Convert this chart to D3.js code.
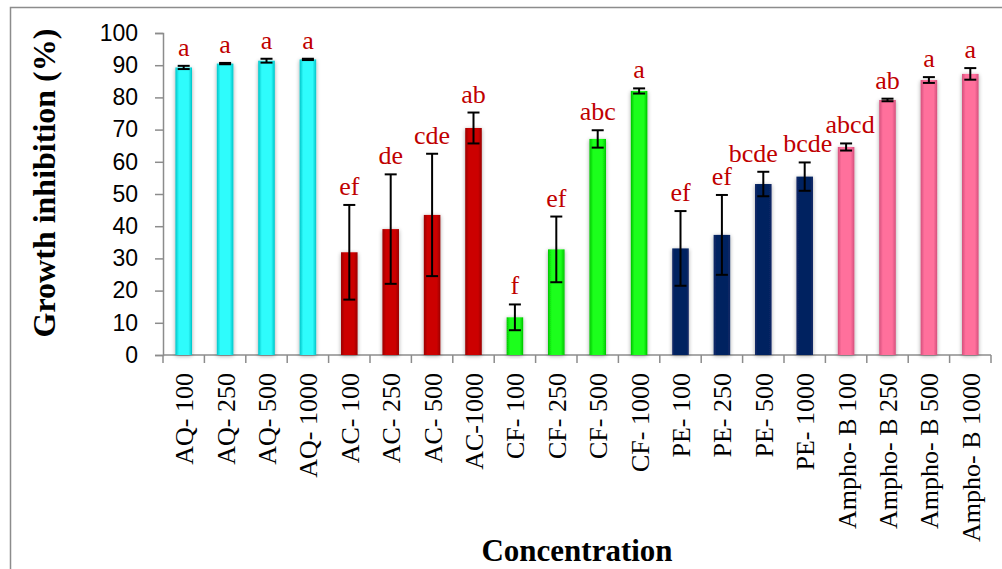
<!DOCTYPE html>
<html>
<head>
<meta charset="utf-8">
<script src="https://cdn.jsdelivr.net/npm/d3@7"></script>
<style>
  html, body { margin: 0; padding: 0; background: #fff; }
  svg { display: block; }
</style>
</head>
<body>
<svg id="chart" width="1002" height="569"></svg>
<script>
// Extract / treatment concentrations along the x axis
const categories = [
  "AQ- 100", "AQ- 250", "AQ- 500", "AQ- 1000",
  "AC- 100", "AC- 250", "AC- 500", "AC-1000",
  "CF- 100", "CF- 250", "CF- 500", "CF- 1000",
  "PE- 100", "PE- 250", "PE- 500", "PE- 1000",
  "Ampho- B 100", "Ampho- B 250", "Ampho- B 500", "Ampho- B 1000"
];
// Group each bar belongs to (sets the bar colour)
const groups = [
  "AQ", "AQ", "AQ", "AQ",
  "AC", "AC", "AC", "AC",
  "CF", "CF", "CF", "CF",
  "PE", "PE", "PE", "PE",
  "AMB", "AMB", "AMB", "AMB"
];
// Mean growth inhibition (%)
const inhibition = [
  89.3, 90.5, 91.4, 91.8,
  31.9, 39.1, 43.5, 70.5,
  11.7, 32.8, 67.1, 82.0,
  33.1, 37.3, 53.1, 55.4,
  64.6, 79.2, 85.4, 87.3
];
// Standard deviation shown as error bars
const errors = [
  0.5, 0.2, 0.6, 0.2,
  14.7, 17.0, 19.0, 4.8,
  4.0, 10.2, 2.7, 0.8,
  11.6, 12.4, 3.8, 4.4,
  1.1, 0.4, 0.9, 1.8
];
// Significance letters (groups sharing a letter do not differ)
const letters = [
  "a", "a", "a", "a",
  "ef", "de", "cde", "ab",
  "f", "ef", "abc", "a",
  "ef", "ef", "bcde", "bcde",
  "abcd", "ab", "a", "a"
];
const yTicks = [0, 10, 20, 30, 40, 50, 60, 70, 80, 90, 100];

const groupColors = {
  AQ:  { mid: "#2ffcfc", edge: "#00c4c8" },
  AC:  { mid: "#cc0000", edge: "#9a0000" },
  CF:  { mid: "#1aff1a", edge: "#00c400" },
  PE:  { mid: "#002060", edge: "#0f2a66" },
  AMB: { mid: "#ff6f9c", edge: "#d4507c" }
};

// Sideways nudges so neighbouring letter labels don't collide
const letterNudge = { "PE- 500": -10, "PE- 1000": 3, "Ampho- B 100": 4 };

const svg = d3.select("#chart");
const defs = svg.append("defs");

// Soft shadow around each bar
const shadow = defs.append("filter").attr("id", "barShadow")
  .attr("x", "-60%").attr("y", "-10%").attr("width", "220%").attr("height", "120%");
shadow.append("feGaussianBlur").attr("in", "SourceAlpha").attr("stdDeviation", 2.2).attr("result", "b");
shadow.append("feOffset").attr("in", "b").attr("dx", 0).attr("dy", 1).attr("result", "o");
shadow.append("feComponentTransfer").attr("in", "o").attr("result", "s")
  .append("feFuncA").attr("type", "linear").attr("slope", 0.35);
const merge = shadow.append("feMerge");
merge.append("feMergeNode").attr("in", "s");
merge.append("feMergeNode").attr("in", "SourceGraphic");

// Horizontal gradient: darker edges, bright centre
Object.entries(groupColors).forEach(([k, c]) => {
  const g = defs.append("linearGradient").attr("id", "grad-" + k)
    .attr("x1", "0%").attr("x2", "100%").attr("y1", "0%").attr("y2", "0%");
  g.append("stop").attr("offset", "0%").attr("stop-color", c.edge);
  g.append("stop").attr("offset", "22%").attr("stop-color", c.mid);
  g.append("stop").attr("offset", "78%").attr("stop-color", c.mid);
  g.append("stop").attr("offset", "100%").attr("stop-color", c.edge);
});

// Outer chart frame
svg.append("rect")
  .attr("x", 10.5).attr("y", 7.5).attr("width", 1010).attr("height", 620)
  .attr("fill", "none").attr("stroke", "#8c8c8c").attr("stroke-width", 1.5);

const plot = { left: 163, right: 991, top: 33, bottom: 355 };

const x = d3.scaleBand()
  .domain(categories)
  .range([plot.left, plot.right])
  .paddingInner(0.6)
  .paddingOuter(0.3);

const y = d3.scaleLinear().domain([0, 100]).range([plot.bottom, plot.top]);

const axisColor = "#8c8c8c";

// Y axis
const yAxis = svg.append("g")
  .attr("transform", `translate(${plot.left},0)`)
  .call(d3.axisLeft(y).tickValues(yTicks).tickSize(8).tickPadding(6).tickFormat(d3.format("d")));
yAxis.select(".domain").attr("stroke", axisColor).attr("stroke-width", 1.5);
yAxis.selectAll(".tick line").attr("stroke", axisColor).attr("stroke-width", 1.5);
yAxis.selectAll(".tick text")
  .attr("font-family", "'Liberation Sans', Arial, sans-serif")
  .attr("font-size", 23).attr("fill", "#000").attr("x", -25);

// X axis line and category boundary ticks
svg.append("line")
  .attr("x1", plot.left).attr("x2", plot.right)
  .attr("y1", plot.bottom).attr("y2", plot.bottom)
  .attr("stroke", axisColor).attr("stroke-width", 1.5);
const boundaries = categories.map((c, i) => plot.left + i * x.step());
boundaries.push(plot.right);
svg.append("g").selectAll("line").data(boundaries).join("line")
  .attr("x1", d => d).attr("x2", d => d)
  .attr("y1", plot.bottom).attr("y2", plot.bottom + 8)
  .attr("stroke", axisColor).attr("stroke-width", 1.5);

// X tick labels, rotated
svg.append("g").selectAll("text").data(categories).join("text")
  .attr("transform", d => `translate(${x(d) + x.bandwidth() / 2 + 1},${plot.bottom + 18}) rotate(-90)`)
  .attr("text-anchor", "end")
  .attr("dominant-baseline", "central")
  .attr("font-family", "'Liberation Serif', 'Times New Roman', serif")
  .attr("font-size", 26)
  .attr("fill", "#000")
  .text(d => d);

// Bars
const data = categories.map((c, i) => ({ c, g: groups[i], v: inhibition[i], e: errors[i], l: letters[i] }));

svg.append("g").selectAll("rect").data(data).join("rect")
  .attr("x", d => x(d.c))
  .attr("y", d => y(d.v))
  .attr("width", x.bandwidth())
  .attr("height", d => y(0) - y(d.v))
  .attr("fill", d => `url(#grad-${d.g})`)
  .attr("filter", "url(#barShadow)");

// Error bars
const eb = svg.append("g").attr("stroke", "#000").attr("stroke-width", 2);
const cap = 6;
data.forEach(d => {
  const cx = x(d.c) + x.bandwidth() / 2;
  eb.append("line").attr("x1", cx).attr("x2", cx).attr("y1", y(d.v + d.e)).attr("y2", y(d.v - d.e));
  eb.append("line").attr("x1", cx - cap).attr("x2", cx + cap).attr("y1", y(d.v + d.e)).attr("y2", y(d.v + d.e));
  eb.append("line").attr("x1", cx - cap).attr("x2", cx + cap).attr("y1", y(d.v - d.e)).attr("y2", y(d.v - d.e));
});

// Significance letters
svg.append("g").selectAll("text").data(data).join("text")
  .attr("x", d => x(d.c) + x.bandwidth() / 2 + (letterNudge[d.c] || 0))
  .attr("y", d => y(d.v + d.e) - 10)
  .attr("text-anchor", "middle")
  .attr("font-family", "'Liberation Serif', 'Times New Roman', serif")
  .attr("font-size", 26)
  .attr("fill", "#c00000")
  .text(d => d.l);

// Axis titles
svg.append("text")
  .attr("transform", `translate(55,183) rotate(-90)`)
  .attr("text-anchor", "middle")
  .attr("font-family", "'Liberation Serif', 'Times New Roman', serif")
  .attr("font-weight", "bold")
  .attr("font-size", 32)
  .attr("fill", "#000")
  .text("Growth inhibition (%)");

svg.append("text")
  .attr("x", 577).attr("y", 561)
  .attr("text-anchor", "middle")
  .attr("font-family", "'Liberation Serif', 'Times New Roman', serif")
  .attr("font-weight", "bold")
  .attr("font-size", 31)
  .attr("fill", "#000")
  .text("Concentration");
</script>
</body>
</html>
